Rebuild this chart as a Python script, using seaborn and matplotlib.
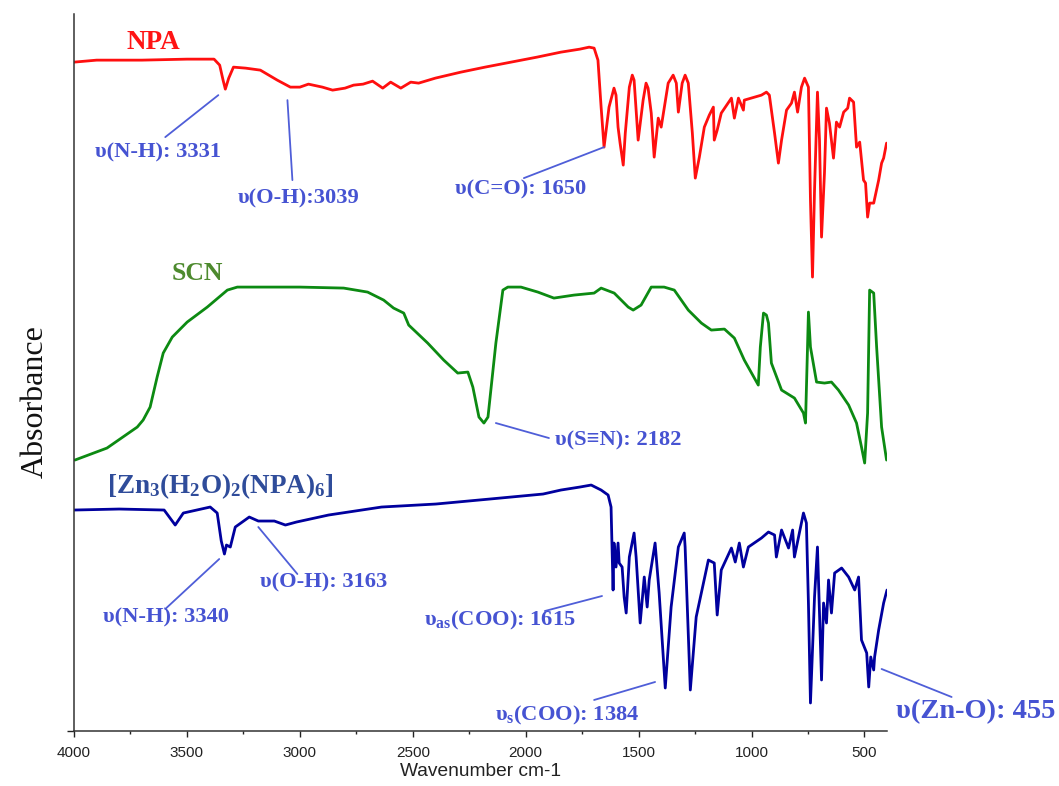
import numpy as np
import pandas as pd
import matplotlib
matplotlib.use("Agg")
import matplotlib.pyplot as plt
from matplotlib.ticker import MultipleLocator
import seaborn as sns

# ---------------- data (wavenumber cm-1, absorbance a.u., offset stacked) ----------------
npa_wn = [4000, 3900, 3700, 3500, 3380, 3355, 3340, 3330, 3315, 3294, 3240, 3175, 3100, 3042,
          3000, 2962, 2900, 2855, 2800, 2762, 2720, 2678, 2633, 2598, 2553, 2509, 2474, 2400,
          2287, 2180, 2065, 1950, 1844, 1760, 1719, 1697, 1680, 1666, 1653, 1631, 1609, 1600,
          1591, 1582, 1568, 1559, 1541, 1528, 1520, 1502, 1480, 1467, 1458, 1444, 1431, 1413,
          1400, 1369, 1347, 1333, 1324, 1307, 1294, 1280, 1262, 1249, 1231, 1209, 1187, 1169,
          1165, 1152, 1134, 1089, 1076, 1058, 1036, 1032, 956, 934, 921, 898, 881, 867, 845,
          823, 810, 796, 779, 765, 748, 739, 730, 721, 708, 699, 690, 677, 668, 655, 637, 624,
          610, 592, 574, 566, 548, 535, 521, 504, 495, 486, 477, 459, 437, 424, 415, 402]
npa_ab = [671, 673, 673, 674, 674, 668, 653, 644, 655, 666, 665, 663, 653, 646,
          646, 649, 646, 643, 645, 648, 649, 652, 645, 651, 645, 651, 650, 655,
          661, 666, 671, 676, 681, 684, 686, 685, 673, 626, 586, 626, 645, 638,
          606, 590, 568, 600, 646, 658, 653, 593, 633, 650, 645, 620, 576, 615,
          606, 650, 658, 650, 621, 650, 658, 650, 600, 555, 576, 606, 618, 626,
          593, 603, 620, 635, 615, 635, 623, 633, 638, 641, 638, 600, 570, 593, 623,
          630, 641, 621, 646, 655, 646, 533, 456, 543, 641, 593, 496, 560, 625, 610, 575, 611,
          606, 621, 625, 635, 631, 586, 591, 553, 550, 516, 530, 530, 553, 570, 575, 590]

scn_wn = [3996, 3854, 3720, 3694, 3663, 3632, 3605, 3565, 3499, 3410, 3321, 3277, 3000, 2806,
          2700, 2629, 2585, 2540, 2518, 2434, 2363, 2301, 2256, 2234, 2207, 2185, 2167, 2132,
          2101, 2079, 2021, 1946, 1875, 1786, 1697, 1666, 1608, 1546, 1524, 1489, 1444, 1387,
          1342, 1280, 1222, 1178, 1120, 1076, 1032, 970, 961, 947, 934, 925, 912, 867, 810,
          770, 761, 752, 748, 739, 712, 677, 646, 615, 570, 535, 513, 499, 486, 477, 459, 446,
          424, 402]
scn_ab = [273, 285, 306, 313, 326, 356, 380, 396, 411, 426, 443, 446, 446, 445,
          441, 433, 425, 420, 408, 390, 373, 360, 361, 346, 316, 310, 316, 390,
          443, 446, 446, 441, 435, 438, 440, 445, 440, 426, 423, 428, 446, 446,
          443, 423, 410, 403, 404, 395, 373, 348, 386, 420, 418, 410, 370, 343, 335,
          320, 310, 386, 421, 386, 351, 350, 351, 343, 328, 310, 286, 270, 320, 443, 440, 386,
          306, 273]

zn_wn = [4000, 3800, 3601, 3552, 3516, 3397, 3366, 3348, 3334, 3325, 3308, 3286, 3224, 3184,
         3113, 3064, 3015, 2873, 2638, 2398, 2159, 1923, 1844, 1760, 1710, 1666, 1635, 1622,
         1613, 1609, 1600, 1591, 1586, 1573, 1564, 1555, 1541, 1520, 1511, 1493, 1475, 1462,
         1453, 1427, 1409, 1382, 1356, 1324, 1298, 1294, 1271, 1245, 1191, 1165, 1152, 1134,
         1089, 1072, 1054, 1036, 1014, 956, 925, 898, 890, 867, 836, 818, 810, 770, 757, 748,
         739, 721, 708, 699, 690, 681, 668, 659, 646, 632, 601, 570, 543, 526, 513, 490, 481,
         472, 459, 455, 437, 415, 400]
zn_ab = [223, 224, 223, 208, 220, 226, 220, 192, 179, 188, 186, 206, 216, 212,
         212, 208, 211, 218, 226, 229, 234, 239, 243, 246, 248, 243, 238, 226,
         143, 190, 166, 190, 170, 166, 136, 120, 176, 200, 176, 110, 156, 126,
         153, 190, 140, 45, 126, 186, 200, 186, 43, 116, 173, 170, 118, 163,
         185, 171, 190, 166, 186, 195, 201, 198, 176, 203, 185, 203, 176, 220, 210, 130,
         30, 136, 186, 120, 53, 130, 110, 153, 120, 160, 165, 156, 143, 156, 93, 80, 46,
         76, 63, 76, 103, 130, 143]

series_names = ["NPA", "SCN", "[Zn3(H2O)2(NPA)6]"]
series_colors = ["#ff0f0f", "#0c8a12", "#00009e"]

# compound labels
label_texts = ["NPA", "SCN", r"[Zn$_3$(H$_2$O)$_2$(NPA)$_6$]"]
label_x = [3650, 3454, 3352]
label_y = [691, 460, 247]
label_sizes = [19.5, 18.5, 19.5]
label_colors = ["#ff1414", "#4d8a2e", "#2f4c9a"]

# peak annotations: text, text position, leader line endpoints
ann_texts = ["υ(N-H): 3331", "υ(O-H):3039", "υ(C=O): 1650", "υ(S≡N): 2182",
             "υ(N-H): 3340", "υ(O-H): 3163", r"υ$_{as}$(COO): 1615", r"υ$_s$(COO): 1384",
             "υ(Zn-O): 455"]
ann_tx = [3630, 3006, 2022, 1591, 3592, 2895, 2112, 1817, 7]
ann_ty = [581, 535, 544, 293, 116, 151, 113, 17, 21]
ann_sizes = [16.2, 16.2, 16.2, 16.2, 16.2, 16.2, 16.2, 16.2, 20.5]
line_x0 = [3361, 3055, 2008, 2132, 3357, 3184, 1915, 1697, 424]
line_y0 = [638, 633, 555, 310, 174, 206, 122, 33, 64]
line_x1 = [3596, 3033, 1653, 1897, 3596, 3011, 1662, 1427, 114]
line_y1 = [596, 553, 586, 295, 124, 159, 137, 51, 36]

x_ticks = [4000, 3500, 3000, 2500, 2000, 1500, 1000, 500]

# ---------------- figure ----------------
sns.set_style("ticks")
plt.rcParams["font.family"] = ["Liberation Sans", "DejaVu Sans"]
plt.rcParams["mathtext.fontset"] = "custom"
plt.rcParams["mathtext.rm"] = "Liberation Serif:bold"
plt.rcParams["mathtext.it"] = "Liberation Serif:bold"
plt.rcParams["mathtext.bf"] = "Liberation Serif:bold"

fig = plt.figure(figsize=(10.59, 7.86), dpi=100)
ax = fig.add_axes([0.0699, 0.070, 0.7677, 0.912])

frames = []
for name, wn, ab in zip(series_names, [npa_wn, scn_wn, zn_wn], [npa_ab, scn_ab, zn_ab]):
    frames.append(pd.DataFrame({"Wavenumber": wn, "Absorbance": ab, "Sample": name}))
df = pd.concat(frames, ignore_index=True)

sns.lineplot(data=df, x="Wavenumber", y="Absorbance", hue="Sample",
             palette=dict(zip(series_names, series_colors)), estimator=None,
             sort=False, legend=False, linewidth=2.0, ax=ax)

ax.set_xlim(4000, 400)
ax.set_ylim(2, 719)
ax.set_xticks(x_ticks)
ax.xaxis.set_minor_locator(MultipleLocator(250))
ax.set_yticks([2])
ax.set_yticklabels([])
ax.tick_params(axis="x", which="major", length=4.5, width=1.0, pad=6,
               labelsize=11, colors="#222222", direction="out")
ax.tick_params(axis="x", which="minor", length=2.5, width=1.0, color="#222222", direction="out")
ax.tick_params(axis="y", which="major", length=5, width=1.0, color="#222222", direction="out")
for s in ["top", "right"]:
    ax.spines[s].set_visible(False)
for s in ["left", "bottom"]:
    ax.spines[s].set_color("#333333")
    ax.spines[s].set_linewidth(1.1)

ax.set_xlabel("Wavenumber cm-1", fontsize=13.8, color="#222222")
ax.xaxis.set_label_coords(0.5, -0.045)
ax.xaxis.label.set_va("top")
ax.set_ylabel("Absorbance", fontsize=23, family=["Liberation Serif", "DejaVu Serif"], color="#111111")
ax.yaxis.set_label_coords(-0.030, 0.459)

for t, x, y, fs, c in zip(label_texts, label_x, label_y, label_sizes, label_colors):
    ax.text(x, y, t, color=c, fontsize=fs, fontweight="bold",
            family=["Liberation Serif", "DejaVu Serif"], ha="center", va="center")

ann_color = "#4653d2"
for t, x, y, fs, xa, ya, xb, yb in zip(ann_texts, ann_tx, ann_ty, ann_sizes,
                                        line_x0, line_y0, line_x1, line_y1):
    ax.plot([xa, xb], [ya, yb], color="#4f5ed8", linewidth=1.3, clip_on=False)
    ax.text(x, y, t, color=ann_color, fontsize=fs, fontweight="bold",
            family=["Liberation Serif", "DejaVu Serif"], ha="center", va="center", clip_on=False)

fig.savefig("out.png", dpi=100)
